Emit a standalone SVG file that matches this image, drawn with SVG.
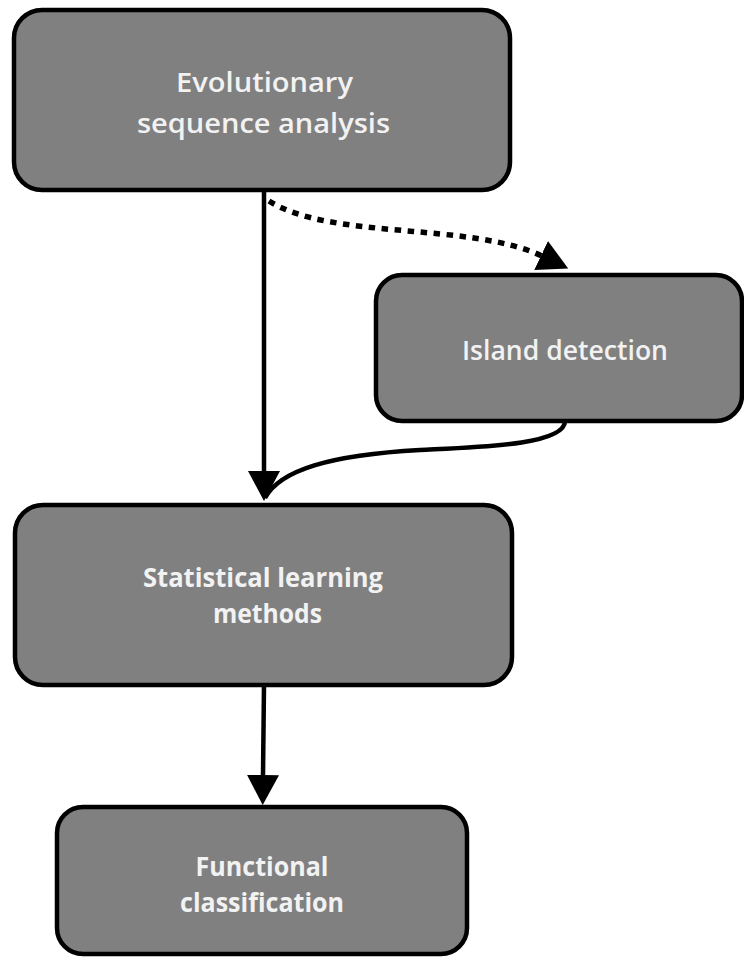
<svg xmlns="http://www.w3.org/2000/svg" width="744" height="958" viewBox="0 0 744 958">
<style>
.box{fill:#808080;stroke:#000;stroke-width:4.5}
.t{font-family:"Open Sans","Liberation Sans",sans-serif;font-size:27px;font-weight:600;fill:#f2f2f2;text-anchor:middle}
.b{font-weight:bold}
.c{fill:none;stroke:#000;stroke-width:4.5}
.d{fill:none;stroke:#000;stroke-width:5.5;stroke-dasharray:6.5 6.5}
</style>
<defs>
<marker id="ah" markerUnits="userSpaceOnUse" viewBox="0 0 30 32" refX="1" refY="16" markerWidth="30" markerHeight="32" orient="auto">
<path d="M0,0 L30,16 L0,32 z" fill="#000"/>
</marker>
</defs>
<rect width="744" height="958" fill="#fff"/>
<g id="connectors">
<path class="c" d="M264,190 L264,472" marker-end="url(#ah)"/>
<path class="d" d="M269,201 C330,240 470,222 542,256" marker-end="url(#ah)"/>
<path class="c" d="M565,421 C565,445 480,447 420,450 C330,455 280,470 265,498"/>
<path class="c" d="M264,685 L263,776" marker-end="url(#ah)"/>
</g>
<g id="n1">
<rect class="box" x="14" y="10" width="496" height="180" rx="28"/>
<text class="t" x="264.5" y="92" textLength="177" lengthAdjust="spacingAndGlyphs">Evolutionary</text>
<text class="t" x="263.5" y="133" textLength="253" lengthAdjust="spacingAndGlyphs">sequence analysis</text>
</g>
<g id="n2">
<rect class="box" x="376" y="275" width="366" height="146" rx="26"/>
<text class="t" x="565" y="360" textLength="206" lengthAdjust="spacingAndGlyphs">Island detection</text>
</g>
<g id="n3">
<rect class="box" x="15" y="505" width="497" height="180" rx="28"/>
<text class="t b" x="263" y="587" textLength="240" lengthAdjust="spacingAndGlyphs">Statistical learning</text>
<text class="t b" x="267.5" y="623" textLength="109" lengthAdjust="spacingAndGlyphs">methods</text>
</g>
<g id="n4">
<rect class="box" x="57" y="807" width="410" height="147" rx="26"/>
<text class="t b" x="262" y="876" textLength="133" lengthAdjust="spacingAndGlyphs">Functional</text>
<text class="t b" x="262" y="912" textLength="164" lengthAdjust="spacingAndGlyphs">classification</text>
</g>
</svg>
